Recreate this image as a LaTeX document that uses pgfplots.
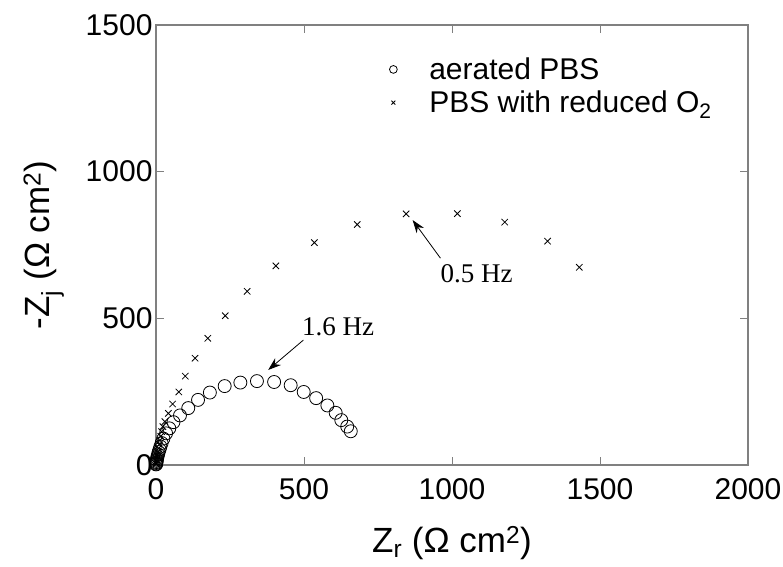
\documentclass[border=0pt]{standalone}
\usepackage{fontspec}
\setmainfont{Liberation Sans}
\newfontfamily\serifhz{Liberation Serif}
\usepackage{pgfplots}
\pgfplotsset{compat=1.18}
\usetikzlibrary{arrows.meta}
\begin{document}
\begin{tikzpicture}
\begin{axis}[
  at={(0pt,0pt)}, anchor=south west,
  width=592pt, height=440pt, scale only axis,
  xmin=0, xmax=2000, ymin=0, ymax=1500,
  xtick={0,500,1000,1500,2000}, ytick={0,500,1000,1500},
  tick align=inside, major tick length=8pt,
  axis line style={draw=black!50, line width=1.5pt},
  every tick/.style={black!50, line width=1pt},
  /pgf/number format/assume math mode=true,
  /pgf/number format/1000 sep={},
  tick label style={font=\fontsize{30}{36}\selectfont},
  xticklabel style={yshift=-10pt},
  label style={font=\fontsize{35}{40}\selectfont},
  xlabel={Z\textsubscript{r} (Ω cm\textsuperscript{2})},
  ylabel={-Z\textsubscript{j} (Ω cm\textsuperscript{2})},
  xlabel style={yshift=-20pt},
  ylabel style={yshift=15pt},
  legend style={draw=none, fill=none, at={(0.389,0.935)}, anchor=north west,
    font=\fontsize{30}{36}\selectfont, row sep=6pt, column sep=30pt},
  legend cell align=left,
  legend image post style={scale=0.6},
]
\addplot[only marks, mark=o, mark size=6.5pt, line width=0.8pt, black] coordinates {
(0.3,2) (0.6,4) (1,7) (1.5,10) (2,14) (3,18) (4,23) (5,29) (7,36) (9,44)
(12,53) (15,63) (19,75) (25,90) (34,108) (45,125) (59,146) (81,169) (109,194)
(142,222) (182,247) (232,269) (285,281) (341,286) (399,283) (455,272) (499,249)
(541,228) (579,203) (607,178) (626,153) (646,131) (658,115)
};
\addlegendentry{aerated PBS}
\addplot[only marks, mark=x, mark size=4.5pt, line width=0.8pt, black] coordinates {
(0.5,3) (1,7) (1.5,11) (2,16) (3,22) (4,29) (5,37) (7,46) (9,57) (11,70)
(13,84) (16,98) (19,114) (23,131) (30,148) (42,176) (56,208) (77,249) (99,303)
(132,364) (175,432) (234,509) (308,592) (405,679) (535,758) (680,820) (845,856)
(1018,857) (1178,828) (1323,763) (1430,674)
};
\addlegendentry{PBS with reduced O\textsubscript{2}}
\draw[-{Stealth[length=13pt,width=9pt]}, line width=0.8pt] (axis cs:498,426) -- (axis cs:379,324);
\node[font=\serifhz\fontsize{27}{30}\selectfont] at (axis cs:615,471) {1.6 Hz};
\draw[-{Stealth[length=13pt,width=9pt]}, line width=0.8pt] (axis cs:961,705) -- (axis cs:867,835);
\node[font=\serifhz\fontsize{27}{30}\selectfont] at (axis cs:1083,653) {0.5 Hz};
\end{axis}
\pgfresetboundingbox
\path (-156pt,-101pt) rectangle (627pt,465pt);
\end{tikzpicture}
\end{document}
